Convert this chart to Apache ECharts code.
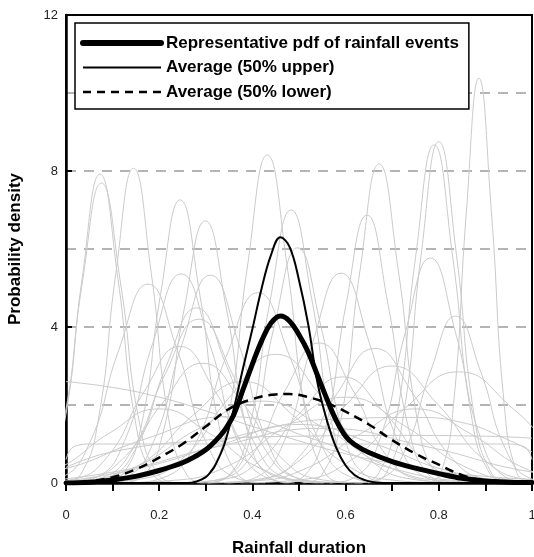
<!DOCTYPE html>
<html><head><meta charset="utf-8">
<script src="https://cdn.jsdelivr.net/npm/echarts/dist/echarts.min.js"></script>
<style>html,body{margin:0;padding:0;background:#fff}#c{width:534px;height:557px}</style>
</head><body><div id="c"></div><script>
// ---- data ----
const xAxisTitle = 'Rainfall duration';
const yAxisTitle = 'Probability density';
const legendNames = ['Representative pdf of rainfall events', 'Average (50% upper)', 'Average (50% lower)'];

const repX = [0,0.05,0.1,0.15,0.2,0.25,0.28,0.3,0.32,0.34,0.36,0.38,0.4,0.42,0.44,0.46,0.48,0.5,0.52,0.54,0.56,0.58,0.6,0.62,0.65,0.7,0.75,0.8,0.85,0.9,0.95,1];
const repY = [0,0.02,0.08,0.17,0.32,0.52,0.7,0.85,1.07,1.35,1.75,2.4,3.05,3.65,4.1,4.28,4.15,3.8,3.35,2.75,2.15,1.6,1.2,0.98,0.78,0.55,0.38,0.24,0.12,0.05,0.02,0.01];

const upperX = [0,0.26,0.28,0.3,0.31,0.32,0.34,0.36,0.38,0.4,0.42,0.44,0.46,0.48,0.5,0.52,0.54,0.56,0.58,0.6,0.62,0.64,0.66,0.68,1];
const upperY = [0,0,0.04,0.15,0.28,0.45,1.0,1.9,2.95,3.95,5.0,5.85,6.3,6.05,5.2,4.05,2.55,1.6,0.9,0.45,0.2,0.08,0.02,0,0];

const lowerX = [0,0.05,0.1,0.15,0.2,0.25,0.3,0.35,0.4,0.45,0.48,0.52,0.56,0.6,0.65,0.7,0.75,0.8,0.85,0.9,0.95,1];
const lowerY = [0,0.04,0.15,0.35,0.65,1.0,1.45,1.9,2.15,2.27,2.28,2.2,2.05,1.83,1.5,1.1,0.75,0.47,0.2,0.06,0.02,0];

const grayX = [
 [-0.079,-0.041,-0.003,0.035,0.073,0.111,0.149,0.187,0.225],
 [-0.088,-0.047,-0.006,0.035,0.076,0.117,0.158,0.199,0.240],
 [-0.007,0.031,0.069,0.107,0.145,0.183,0.221,0.259,0.297],
 [0.077,0.119,0.161,0.203,0.245,0.287,0.329,0.371,0.413],
 [0.119,0.164,0.209,0.254,0.299,0.344,0.389,0.434,0.479],
 [0.264,0.306,0.348,0.390,0.432,0.474,0.516,0.558,0.600],
 [0.303,0.348,0.393,0.438,0.483,0.528,0.573,0.618,0.663],
 [0.297,0.347,0.397,0.447,0.497,0.547,0.597,0.647,0.697],
 [0.466,0.511,0.556,0.601,0.646,0.691,0.736,0.781,0.826],
 [0.508,0.549,0.590,0.631,0.672,0.713,0.754,0.795,0.836],
 [0.63,0.67,0.71,0.75,0.79,0.83,0.87,0.91,0.95],
 [0.648,0.686,0.724,0.762,0.80,0.838,0.876,0.914,0.952],
 [0.778,0.805,0.832,0.859,0.886,0.913,0.940,0.967,0.994],
 [-0.076,-0.013,0.05,0.113,0.176,0.239,0.302,0.365,0.428],
 [0.003,0.064,0.125,0.186,0.247,0.308,0.369,0.430,0.491],
 [0.066,0.127,0.188,0.249,0.31,0.371,0.432,0.493,0.554],
 [0.02,0.085,0.15,0.215,0.28,0.345,0.41,0.475,0.54],
 [0.14,0.208,0.276,0.344,0.412,0.48,0.548,0.616,0.684],
 [0.346,0.407,0.468,0.529,0.59,0.651,0.712,0.773,0.834],
 [0.566,0.62,0.674,0.728,0.782,0.836,0.89,0.944,0.998],
 [0.62,0.674,0.728,0.782,0.836,0.89,0.944,0.998,1.052],
 [-0.064,0.013,0.09,0.167,0.244,0.321,0.398,0.475,0.552],
 [-0.051,0.035,0.121,0.207,0.293,0.379,0.465,0.551,0.637],
 [0.255,0.327,0.399,0.471,0.543,0.615,0.687,0.759,0.831],
 [0.233,0.323,0.413,0.503,0.593,0.683,0.773,0.863,0.953],
 [0.339,0.42,0.501,0.582,0.663,0.744,0.825,0.906,0.987],
 [0.304,0.403,0.502,0.601,0.70,0.799,0.898,0.997,1.096],
 [0.375,0.492,0.609,0.726,0.843,0.96,1.077,1.194,1.311],
 [-0.12,0.015,0.15,0.285,0.42,0.555,0.69,0.825,0.96],
 [-0.37,-0.19,-0.01,0.17,0.35,0.53,0.71,0.89,1.07],
 [-0.35,-0.125,0.1,0.325,0.55,0.775,1.0,1.225,1.45],
 [-0.232,-0.124,-0.016,0.092,0.2,0.308,0.416,0.524,0.632],
 [0,0.1,0.2,0.3,0.4,0.5,0.6,0.7,0.8,0.9,1],
 [0,0.02,0.06,0.5,0.94,0.98,1],
 [0,0.1,0.3,0.5,0.7,0.9,1],
 [0,0.2,0.4,0.6,0.75,0.85,0.95,1],
 [0.054,0.153,0.252,0.351,0.45,0.549,0.648,0.747,0.846],
 [0.282,0.399,0.516,0.633,0.75,0.867,0.984,1.101,1.218],
 [-0.052,0.056,0.164,0.272,0.38,0.488,0.596,0.704,0.812],
 [0.096,0.222,0.348,0.474,0.6,0.726,0.852,0.978,1.104],
 [-0.148,0.014,0.176,0.338,0.5,0.662,0.824,0.986,1.148],
 [-0.003,0.069,0.141,0.213,0.285,0.357,0.429,0.501,0.573]
];
const grayY = [
 [0,0.21,1.57,5.28,7.92,5.28,1.57,0.21,0],
 [0,0.2,1.52,5.13,7.69,5.13,1.52,0.2,0],
 [0,0.21,1.6,5.38,8.07,5.38,1.6,0.21,0],
 [0,0.19,1.44,4.84,7.26,4.84,1.44,0.19,0],
 [0,0.17,1.33,4.48,6.72,4.48,1.33,0.17,0],
 [0,0.22,1.67,5.61,8.41,5.61,1.67,0.22,0],
 [0,0.18,1.39,4.67,7.0,4.67,1.39,0.18,0],
 [0,0.16,1.19,4.02,6.03,4.02,1.19,0.16,0],
 [0,0.18,1.36,4.58,6.87,4.58,1.36,0.18,0],
 [0,0.21,1.62,5.46,8.18,5.46,1.62,0.21,0],
 [0,0.23,1.72,5.78,8.67,5.78,1.72,0.23,0],
 [0,0.23,1.73,5.84,8.75,5.84,1.73,0.23,0],
 [0,0.27,2.06,6.92,10.38,6.92,2.06,0.27,0],
 [0,0.13,1.01,3.4,5.1,3.4,1.01,0.13,0],
 [0,0.14,1.06,3.58,5.36,3.58,1.06,0.14,0],
 [0,0.14,1.06,3.56,5.33,3.56,1.06,0.14,0],
 [0,0.12,0.89,2.99,4.49,2.99,0.89,0.12,0],
 [0,0.13,0.97,3.25,4.88,3.25,0.97,0.13,0],
 [0,0.14,1.07,3.59,5.38,3.59,1.07,0.14,0],
 [0,0.15,1.14,3.85,5.77,3.85,1.14,0.15,0],
 [0,0.11,0.85,2.85,4.28,2.85,0.85,0.11,0],
 [0,0.09,0.69,2.33,3.5,2.33,0.69,0.09,0],
 [0,0.08,0.61,2.05,3.07,2.05,0.61,0.08,0],
 [0,0.09,0.71,2.39,3.59,2.39,0.71,0.09,0],
 [0,0.07,0.54,1.81,2.72,1.81,0.54,0.07,0],
 [0,0.09,0.68,2.3,3.45,2.3,0.68,0.09,0],
 [0,0.08,0.59,2.0,3.0,2.0,0.59,0.08,0],
 [0,0.07,0.56,1.9,2.85,1.9,0.56,0.07,0],
 [0,0.05,0.42,1.4,2.1,1.4,0.42,0.05,0],
 [0,0.04,0.34,1.13,1.7,1.13,0.34,0.04,0],
 [0,0.04,0.28,0.93,1.4,0.93,0.28,0.04,0],
 [0,0.05,0.38,1.27,1.9,1.27,0.38,0.05,0],
 [2.6,2.45,2.2,1.85,1.45,1.08,0.75,0.5,0.3,0.17,0.09],
 [0.6,0.95,1.0,1.0,1.0,0.95,0.6],
 [0.4,0.8,1.1,1.2,1.22,1.2,1.15],
 [0.05,0.5,1.3,1.65,1.68,1.55,1.1,0.8],
 [0,0.09,0.65,2.2,3.3,2.2,0.65,0.09,0],
 [0,0.05,0.38,1.27,1.9,1.27,0.38,0.05,0],
 [0,0.07,0.51,1.73,2.6,1.73,0.51,0.07,0],
 [0,0.06,0.44,1.47,2.2,1.47,0.44,0.06,0],
 [0,0.04,0.3,1.0,1.5,1.0,0.3,0.04,0],
 [0,0.11,0.83,2.8,4.2,2.8,0.83,0.11,0]
];

// ---- chart ----
const FONT = '"Liberation Sans", Arial, sans-serif';
const pairs = (xs, ys) => xs.map((x, i) => [x, ys[i]]);
const series = [];
grayX.forEach((xs, i) => {
  series.push({type:'line', data: pairs(xs, grayY[i]), smooth:0.5, symbol:'none', silent:true,
    lineStyle:{color:'#cacaca', width:1}, z:2});
});
const blackItem = {color:'#000'};
series.push({name: legendNames[0], type:'line', data: pairs(repX, repY), smooth:0.4, symbol:'none', itemStyle:blackItem,
  lineStyle:{color:'#000', width:5, cap:'round', join:'round'}, z:5});
series.push({name: legendNames[1], type:'line', data: pairs(upperX, upperY), smooth:0.4, symbol:'none', itemStyle:blackItem,
  lineStyle:{color:'#000', width:2}, z:5});
series.push({name: legendNames[2], type:'line', data: pairs(lowerX, lowerY), smooth:0.4, symbol:'none', itemStyle:blackItem,
  lineStyle:{color:'#000', width:2.5, type:[9,6]}, z:5});

const hiddenSym = {color:'rgba(0,0,0,0)', borderWidth:0, opacity:0};
const chart = echarts.init(document.getElementById('c'), null, {renderer:'canvas'});
chart.setOption({
  animation:false,
  backgroundColor:'#fff',
  textStyle:{fontFamily:FONT},
  grid:{left:66, right:2, top:15, bottom:74, show:true, borderColor:'#000', borderWidth:2, backgroundColor:'transparent',
    containLabel:false, outerBoundsMode:'none'},
  legend:{
    left:75, top:23, orient:'vertical',
    data:[
      {name:legendNames[0], itemStyle:hiddenSym, lineStyle:{width:6, cap:'round', color:'#000', opacity:1}},
      {name:legendNames[1], itemStyle:hiddenSym, lineStyle:{width:2, color:'#000', opacity:1}},
      {name:legendNames[2], itemStyle:hiddenSym, lineStyle:{width:2.5, type:[8,6], color:'#000', opacity:1}}
    ],
    itemWidth:78, itemHeight:14, itemGap:4.5,
    padding:[10,10,7,5],
    borderColor:'#000', borderWidth:1.5, backgroundColor:'#fff',
    selectedMode:false,
    textStyle:{fontFamily:FONT, fontWeight:'bold', fontSize:17, color:'#000', lineHeight:20}
  },
  xAxis:{
    type:'value', min:0, max:1, interval:0.1,
    name:xAxisTitle, nameLocation:'middle', nameGap:57,
    nameTextStyle:{fontFamily:FONT, fontWeight:'bold', fontSize:17, color:'#000'},
    axisLine:{lineStyle:{color:'#000', width:2.5}},
    axisTick:{length:8, lineStyle:{color:'#000', width:2}},
    axisLabel:{fontFamily:FONT, fontSize:13, color:'#222', margin:26,
      formatter:v => (Math.round(v*10) % 2 === 0) ? String(+v.toFixed(1)) : ''},
    splitLine:{show:false}
  },
  yAxis:{
    type:'value', min:0, max:12, interval:4,
    name:yAxisTitle, nameLocation:'middle', nameGap:42,
    nameTextStyle:{fontFamily:FONT, fontWeight:'bold', fontSize:17, color:'#000'},
    axisLine:{lineStyle:{color:'#000', width:2.5}},
    axisTick:{inside:true, length:6, lineStyle:{color:'#000', width:2}},
    axisLabel:{fontFamily:FONT, fontSize:13, color:'#222', margin:8},
    splitLine:{show:true, showMinLine:false, showMaxLine:false, lineStyle:{color:'#b4b4b4', width:2, type:[10,8]}},
    minorTick:{show:false, splitNumber:2},
    minorSplitLine:{show:true, lineStyle:{color:'#b4b4b4', width:2, type:[10,8]}}
  },
  series:series
});
</script></body></html>
